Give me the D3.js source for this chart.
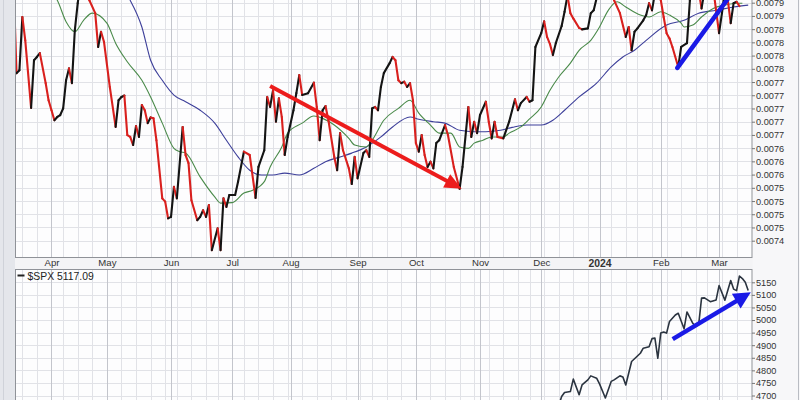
<!DOCTYPE html>
<html><head><meta charset="utf-8">
<script src="https://cdn.jsdelivr.net/npm/d3@7/dist/d3.min.js"></script>
<style>html,body{margin:0;padding:0;background:#f7f7f9;overflow:hidden}svg{display:block}</style>
</head><body>
<svg id="chart" width="800" height="400"></svg>
<script>
// ---------- calendar (US trading sessions) ----------
const firstSession = "2023-03-15";
const lastSession = "2024-03-15";
const marketHolidays = ["2023-04-07","2023-05-29","2023-06-19","2023-07-04","2023-09-04","2023-11-23","2023-12-25","2024-01-01","2024-01-15","2024-02-19"];
const monthTickLabels = ["Apr","May","Jun","Jul","Aug","Sep","Oct","Nov","Dec","2024","Feb","Mar"];

// ---------- top panel axis (values in millionths) ----------
const topTickValues = [7400.0,7427.8,7455.6,7483.3,7511.1,7538.9,7566.7,7594.4,7622.2,7650.0,7677.8,7705.6,7733.3,7761.1,7788.9,7816.7,7844.4,7872.2,7900.0];
const topTickLabels = ["0.0074","0.0075","0.0075","0.0075","0.0075","0.0076","0.0076","0.0076","0.0077","0.0077","0.0077","0.0077","0.0077","0.0078","0.0078","0.0078","0.0078","0.0079","0.0079"];

// ---------- bottom panel axis ----------
const spxTickValues = [4700,4750,4800,4850,4900,4950,5000,5050,5100,5150];
const spxTickLabels = ["4700","4750","4800","4850","4900","4950","5000","5050","5100","5150"];
const spxLegend = "$SPX 5117.09";

// ---------- price (session number, value in millionths) ----------
const priceSession = [0,1,2,3,4,6,7,8,9,11,12,13,14,15,16,17,18,19,20,21,22,23,25,26,28,29,30,31,33,35,36,37,38,39,40,41,42,43,44,45,46,47,48,49,51,52,53,54,55,56,58,59,60,61,63,64,65,66,67,68,70,71,72,73,74,76,77,79,81,83,84,86,87,88,89,90,91,92,93,94,96,97,98,99,101,103,104,105,106,107,108,110,111,112,113,115,116,117,118,120,121,122,123,124,125,126,127,129,130,131,132,133,134,135,136,137,138,139,140,141,142,143,144,145,146,148,149,151,153,154,156,157,158,159,160,162,163,164,165,166,168,170,172,173,174,176,177,178,179,181,182,183,184,185,186,188,189,190,191,192,194,195,197,198,199,201,203,205,206,208,210,211,212,213,214,216,217,218,219,220,222,223,224,225,226,228,229,231,232,233,235,236,237,240,242,243,244,245,246,247,248,249];
const priceValue = [7937,7752,7758,7870,7821,7679,7779,7786,7794,7731,7695,7674,7653,7660,7664,7678,7737,7762,7731,7842,7899,7945,7955,7905,7878,7807,7839,7818,7723,7639,7695,7702,7705,7622,7618,7601,7641,7618,7685,7674,7647,7659,7657,7611,7489,7482,7447,7450,7513,7489,7639,7580,7563,7485,7443,7450,7464,7450,7475,7380,7426,7380,7489,7471,7496,7496,7524,7587,7580,7490,7555,7590,7702,7681,7716,7650,7699,7660,7580,7618,7674,7710,7748,7706,7710,7732,7681,7611,7674,7683,7653,7576,7548,7626,7590,7552,7519,7576,7531,7584,7590,7576,7678,7681,7674,7723,7752,7773,7786,7779,7737,7731,7734,7723,7731,7695,7605,7587,7622,7580,7555,7566,7552,7605,7611,7643,7622,7555,7509,7555,7681,7618,7650,7626,7664,7692,7650,7615,7650,7618,7615,7650,7697,7674,7689,7702,7692,7695,7807,7836,7861,7828,7813,7790,7815,7851,7881,7915,7878,7867,7847,7844,7846,7878,7884,7935,7950,7930,7905,7878,7828,7849,7800,7839,7846,7863,7874,7899,7884,7920,7906,7870,7836,7825,7807,7765,7807,7815,7905,7935,7925,7888,7925,7930,7836,7878,7925,7906,7857,7899,7902,7893];

// ---------- short moving average (green) ----------
const maShortSession = [12,15,18,21,24,27,32,35,39,44,47,51,55,57,59,64,69,71,75,79,82,86,88,92,94,99,103,106,110,115,117,121,123,127,132,136,139,143,146,150,153,156,158,161,164,168,170,174,177,181,184,187,191,194,198,201,204,207,210,215,218,222,225,229,230,233,236,240,244,248,250];
const maShortValue = [7930,7905,7860,7839,7863,7878,7857,7815,7776,7737,7702,7647,7594,7587,7584,7534,7492,7479,7480,7500,7506,7524,7555,7597,7626,7647,7662,7657,7643,7615,7601,7597,7611,7653,7678,7695,7668,7643,7626,7626,7597,7594,7605,7611,7618,7618,7626,7639,7656,7681,7716,7744,7773,7800,7821,7849,7884,7902,7891,7874,7870,7881,7874,7857,7849,7853,7870,7888,7895,7899,7899];

// ---------- long moving average (blue) ----------
const maLongSession = [34,40,44,47,51,55,59,64,69,73,77,81,85,89,93,98,103,107,112,116,121,126,130,136,139,144,148,153,158,162,167,171,176,181,185,189,194,200,205,209,213,217,224,230,235,241,247,252];
const maLongValue = [7950,7905,7849,7779,7737,7706,7692,7674,7647,7611,7576,7548,7538,7538,7542,7538,7552,7566,7576,7584,7597,7618,7639,7660,7655,7650,7647,7632,7629,7629,7632,7638,7643,7643,7653,7674,7702,7731,7765,7786,7800,7821,7853,7863,7878,7884,7891,7895];

// ---------- $SPX ----------
const spxSession = [187,188,189,191,192,194,195,197,198,200,201,203,205,206,208,209,210,212,215,216,218,219,220,221,222,223,224,225,227,228,230,231,233,234,235,236,237,239,241,242,244,246,247,248,249,250,251,252];
const spxValue = [4660,4696,4712,4716,4765,4703,4742,4762,4778,4769,4746,4690,4756,4762,4778,4774,4742,4835,4868,4888,4894,4926,4928,4848,4948,4952,4948,4994,5020,5027,4965,5032,4987,4975,4981,5087,5088,5073,5080,5137,5079,5157,5123,5117,5175,5165,5150,5117.09];

// ---------- hand-drawn annotations (session, value) ----------
const redArrowSession = [88, 153.7];
const redArrowValue = [7725, 7509];
const blueLineSession = [227.7, 250];
const blueLineValue = [7763, 7950];
const spxArrowSession = [226.1, 252.9];
const spxArrowValue = [4924, 5110];

// ================= drawing =================
const svg = d3.select("#chart");
const L = 15, R = 752.5;
const top0 = -2, top1 = 257.5, bot0 = 269.5, bot1 = 415;
const FONT = "'Liberation Sans', Arial, sans-serif";

// sessions
const holidaySet = new Set(marketHolidays);
const sessions = [];
for (let t = Date.parse(firstSession + "T00:00:00Z"); t <= Date.parse(lastSession + "T00:00:00Z"); t += 864e5) {
  const d = new Date(t), wd = d.getUTCDay(), s = d.toISOString().slice(0, 10);
  if (wd > 0 && wd < 6 && !holidaySet.has(s)) sessions.push(d);
}
const monthStarts = [], weekStarts = [];
for (let i = 1; i < sessions.length; i++) {
  if (sessions[i].getUTCMonth() !== sessions[i - 1].getUTCMonth()) monthStarts.push(i);
  if (sessions[i].getUTCDay() <= sessions[i - 1].getUTCDay()) weekStarts.push(i);
}

const x = d3.scaleLinear().domain([0, sessions.length - 1]).range([13.6, 748.2]);
const yTop = d3.scaleLinear().domain([7400, 7900]).range([240.7, 2.7]);
const ySpx = d3.scaleLinear().domain([4700, 5150]).range([395.5, 282.3]);

// backgrounds
svg.append("rect").attr("x", 0).attr("y", 0).attr("width", 800).attr("height", 400).attr("fill", "#f7f7f9");
svg.append("rect").attr("x", 0).attr("y", 0).attr("width", L).attr("height", 400).attr("fill", "#e4e6eb");
svg.append("line").attr("x1", 3.5).attr("x2", 3.5).attr("y1", 0).attr("y2", 400).attr("stroke", "#cfd2d9");
svg.append("line").attr("x1", 798.5).attr("x2", 798.5).attr("y1", 0).attr("y2", 400).attr("stroke", "#b9bcc3");
svg.append("rect").attr("x", L).attr("y", top1).attr("width", R - L).attr("height", bot0 - top1).attr("fill", "#f4f4f6");

const defs = svg.append("defs");
defs.append("clipPath").attr("id", "clipTop").append("rect").attr("x", L).attr("y", top0).attr("width", R - L).attr("height", top1 - top0);
defs.append("clipPath").attr("id", "clipBot").append("rect").attr("x", L).attr("y", bot0).attr("width", R - L).attr("height", bot1 - bot0);

function panel(y0, y1, ticks, yScale, clipId) {
  const g = svg.append("g");
  g.append("rect").attr("x", L).attr("y", y0).attr("width", R - L).attr("height", y1 - y0).attr("fill", "#fdfdfe");
  const grid = g.append("g").attr("clip-path", `url(#${clipId})`);
  grid.selectAll("line.h").data(ticks).join("line").attr("class", "h")
    .attr("x1", L).attr("x2", R).attr("y1", d => Math.round(yScale(d)) + 0.5).attr("y2", d => Math.round(yScale(d)) + 0.5)
    .attr("stroke", "#e1e2e7").attr("stroke-width", 1);
  grid.selectAll("line.w").data(weekStarts).join("line").attr("class", "w")
    .attr("y1", y0).attr("y2", y1).attr("x1", d => Math.round(x(d)) + 0.5).attr("x2", d => Math.round(x(d)) + 0.5)
    .attr("stroke", "#e1e2e7").attr("stroke-width", 1);
  grid.selectAll("line.m").data(monthStarts).join("line").attr("class", "m")
    .attr("y1", y0).attr("y2", y1).attr("x1", d => Math.round(x(d)) + 0.5).attr("x2", d => Math.round(x(d)) + 0.5)
    .attr("stroke", "#c3c5cc").attr("stroke-width", 1);
  return g;
}
panel(top0, top1, topTickValues, yTop, "clipTop");
panel(bot0, bot1, spxTickValues, ySpx, "clipBot");

// ---- top panel series ----
const gTop = svg.append("g").attr("clip-path", "url(#clipTop)");
const ma = d3.line().curve(d3.curveMonotoneX);
gTop.append("path").attr("d", ma(maLongSession.map((s, i) => [x(s), yTop(maLongValue[i])])))
  .attr("fill", "none").attr("stroke", "#3d3f9a").attr("stroke-width", 1.1);
gTop.append("path").attr("d", ma(maShortSession.map((s, i) => [x(s), yTop(maShortValue[i])])))
  .attr("fill", "none").attr("stroke", "#4a8a4a").attr("stroke-width", 1.1);

const segs = priceSession.slice(1).map((s, k) => ({
  x1: x(priceSession[k]), y1: yTop(priceValue[k]), x2: x(s), y2: yTop(priceValue[k + 1]),
  up: priceValue[k + 1] >= priceValue[k]
}));
gTop.selectAll("line.p").data(segs).join("line").attr("class", "p")
  .attr("x1", d => d.x1).attr("y1", d => d.y1).attr("x2", d => d.x2).attr("y2", d => d.y2)
  .attr("stroke", d => d.up ? "#141414" : "#d9201e").attr("stroke-width", 2.1).attr("stroke-linecap", "round");

function arrow(g, x1, y1, x2, y2, color, w, headLen, headHalf) {
  const dx = x2 - x1, dy = y2 - y1, len = Math.hypot(dx, dy), ux = dx / len, uy = dy / len;
  const bx = x2 - ux * headLen, by = y2 - uy * headLen;
  g.append("line").attr("x1", x1).attr("y1", y1).attr("x2", bx + ux * 2).attr("y2", by + uy * 2)
    .attr("stroke", color).attr("stroke-width", w).attr("stroke-linecap", "butt");
  g.append("polygon").attr("points", [[x2, y2], [bx - uy * headHalf, by + ux * headHalf], [bx + uy * headHalf, by - ux * headHalf]].map(p => p.join(",")).join(" "))
    .attr("fill", color);
}
arrow(gTop, x(redArrowSession[0]), yTop(redArrowValue[0]), x(redArrowSession[1]), yTop(redArrowValue[1]), "#ec1c1c", 4, 17, 7.5);
gTop.append("line").attr("x1", x(blueLineSession[0])).attr("y1", yTop(blueLineValue[0]))
  .attr("x2", x(blueLineSession[1])).attr("y2", yTop(blueLineValue[1]))
  .attr("stroke", "#1a1ae6").attr("stroke-width", 4.5).attr("stroke-linecap", "round");

// ---- bottom panel ----
const gBot = svg.append("g").attr("clip-path", "url(#clipBot)");
gBot.append("path").attr("d", d3.line()(spxSession.map((s, i) => [x(s), ySpx(spxValue[i])])))
  .attr("fill", "none").attr("stroke", "#2b3440").attr("stroke-width", 1.6).attr("stroke-linejoin", "round");
arrow(gBot, x(spxArrowSession[0]), ySpx(spxArrowValue[0]), x(spxArrowSession[1]), ySpx(spxArrowValue[1]), "#1a1ae6", 4.5, 17, 8.5);

// legend
svg.append("line").attr("x1", 17.5).attr("x2", 24.5).attr("y1", 275.5).attr("y2", 275.5).attr("stroke", "#222").attr("stroke-width", 2);
svg.append("text").attr("x", 27.5).attr("y", 279.5).attr("font-family", FONT).attr("font-size", 10.4)
  .attr("fill", "#222").text(spxLegend);

// borders
svg.append("rect").attr("x", L + 0.5).attr("y", top0).attr("width", R - L - 1).attr("height", top1 - top0)
  .attr("fill", "none").attr("stroke", "#8f9298");
svg.append("rect").attr("x", L + 0.5).attr("y", bot0).attr("width", R - L - 1).attr("height", bot1 - bot0)
  .attr("fill", "none").attr("stroke", "#8f9298");

// axes
function styleAxis(g) {
  g.select(".domain").remove();
  g.selectAll(".tick line").attr("stroke", "#777");
  g.selectAll(".tick text").attr("fill", "#333").attr("font-family", FONT);
}
const axTop = svg.append("g").attr("transform", `translate(${R - 0.5},0)`)
  .call(d3.axisRight(yTop).tickValues(topTickValues).tickFormat((d, i) => topTickLabels[i]).tickSize(3).tickPadding(1));
styleAxis(axTop); axTop.selectAll(".tick text").attr("font-size", 9.2);
const axBot = svg.append("g").attr("transform", `translate(${R - 0.5},0)`)
  .call(d3.axisRight(ySpx).tickValues(spxTickValues).tickFormat((d, i) => spxTickLabels[i]).tickSize(3).tickPadding(1));
styleAxis(axBot); axBot.selectAll(".tick text").attr("font-size", 9.2);

const axX = svg.append("g").attr("transform", `translate(0,${top1})`)
  .call(d3.axisBottom(x).tickValues(monthStarts).tickFormat((d, i) => monthTickLabels[i]).tickSize(0).tickPadding(2));
styleAxis(axX);
axX.selectAll(".tick text").attr("font-size", 9.6)
  .attr("font-weight", (d, i) => monthTickLabels[i] === "2024" ? "bold" : "normal")
  .attr("font-size", (d, i) => monthTickLabels[i] === "2024" ? 10.4 : 9.6);
</script>
</body></html>
